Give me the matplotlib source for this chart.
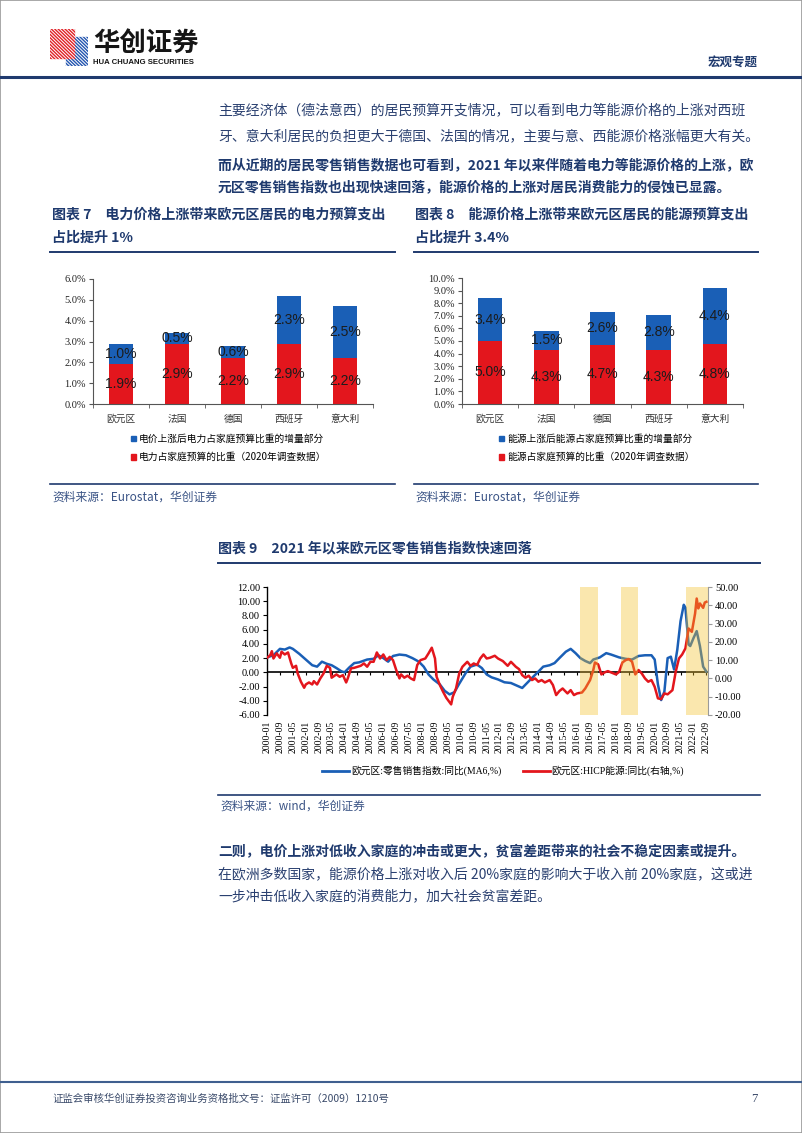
import numpy as np
import matplotlib
matplotlib.use('Agg')
import matplotlib.pyplot as plt
from matplotlib.patches import Patch, Rectangle, Polygon
from matplotlib.lines import Line2D

W, H = 802, 1133
NAVY = '#1f3a6e'
TEXT = '#2a4070'
BLUE = '#1a5fb6'
RED = '#e3161d'
CJK = ['Noto Sans CJK SC', 'DejaVu Sans']
SERIF = ['Liberation Serif', 'Noto Sans CJK SC']

plt.rcParams['font.family'] = CJK
plt.rcParams['axes.unicode_minus'] = False

# ---- data: bar charts (chart 7 / chart 8)
countries = ['欧元区', '法国', '德国', '西班牙', '意大利']
elec_base = [1.9, 2.9, 2.2, 2.9, 2.2]
elec_incr = [1.0, 0.5, 0.6, 2.3, 2.5]
energy_base = [5.0, 4.3, 4.7, 4.3, 4.8]
energy_incr = [3.4, 1.5, 2.6, 2.8, 4.4]

# ---- data: chart 9, months since 2000-01
retail_m = [0, 4, 8, 11, 14, 16, 20, 24, 28, 31,
            34, 37, 40, 43, 46, 48, 51, 54, 57, 62,
            66, 69, 72, 75, 78, 82, 86, 90, 94, 97,
            100, 103, 107, 110, 113, 116, 119, 123, 126, 130,
            133, 136, 139, 143, 147, 151, 156, 158, 161, 164,
            168, 171, 175, 178, 181, 185, 188, 191, 194, 197,
            200, 202, 206, 210, 213, 218, 222, 226, 230, 234,
            238, 240, 242, 244, 246, 248, 250, 252, 254, 256,
            258, 259, 261, 262, 264, 266, 268, 270, 272]
retail_v = [2.1, 2.4, 3.3, 3.2, 3.5, 3.3, 2.6, 1.8, 1.0, 0.8,
            1.5, 1.2, 1.0, 0.6, 0.15, 0.0, 0.7, 1.3, 1.4, 1.8,
            1.9, 2.4, 2.0, 1.5, 2.3, 2.5, 2.4, 2.0, 1.5, 0.8,
            -0.3, -1.0, -1.7, -2.6, -3.1, -2.8, -1.6, -0.1, 0.8, 1.1,
            0.6, -0.3, -0.7, -1.0, -1.4, -1.5, -2.0, -2.2, -1.5, -0.8,
            0.1, 0.8, 1.0, 1.3, 2.0, 2.9, 3.3, 2.7, 2.0, 1.6,
            1.3, 1.8, 2.1, 2.7, 2.5, 2.1, 1.9, 1.8, 2.3, 2.4,
            2.4, 1.8, -1.7, -3.9, -2.7, 2.0, 2.2, 0.4, 3.2, 7.2,
            9.5, 9.1, 3.9, 3.7, 4.8, 5.8, 3.7, 0.8, 0.1]
energy_m = [0, 2, 3, 4, 6, 8, 9, 11, 13, 15,
            16, 18, 19, 21, 23, 24, 26, 28, 29, 31,
            33, 35, 37, 39, 40, 43, 45, 47, 49, 50,
            52, 54, 58, 60, 62, 64, 66, 68, 70, 72,
            74, 76, 78, 80, 82, 83, 85, 87, 89, 91,
            93, 95, 98, 100, 102, 104, 105, 107, 109, 111,
            114, 115, 117, 119, 121, 124, 126, 128, 130, 132,
            134, 136, 138, 141, 143, 146, 149, 151, 154, 156,
            158, 160, 162, 164, 166, 168, 170, 172, 175, 177,
            179, 181, 183, 186, 188, 190, 192, 195, 197, 200,
            202, 203, 205, 207, 209, 211, 213, 216, 218, 220,
            222, 224, 226, 228, 230, 232, 234, 236, 238, 240,
            242, 244, 246, 248, 251, 253, 255, 257, 259, 261,
            263, 265, 266, 267, 268, 270, 271, 272]
energy_v = [11.3, 12.7, 14.9, 10.9, 13.7, 11.3, 14.6, 13.1, 14.2, 8.2,
            5.8, 6.9, 2.7, -1.8, -5.1, -3.3, -2.2, -3.3, -1.5, -3.3,
            0.0, 2.7, 6.9, 5.8, 0.4, 2.2, 0.9, 1.8, -2.2, 0.0,
            5.5, 5.8, 6.9, 8.2, 6.4, 9.1, 9.1, 14.2, 10.9, 13.1,
            10.0, 11.8, 10.0, 4.6, 0.0, 2.2, 0.4, 1.5, 0.0, -0.9,
            7.3, 10.0, 10.9, 13.7, 16.8, 10.9, 0.9, -3.6, -7.3, -10.6,
            -14.2, -10.0, -5.5, 2.7, 6.4, 9.1, 6.9, 8.2, 7.3, 10.9,
            13.1, 10.9, 11.3, 12.4, 10.9, 9.5, 6.9, 9.1, 6.4, 5.1,
            1.8, 0.4, 1.5, -0.9, 0.0, -1.8, -0.9, -2.2, -0.9, -3.6,
            -9.1, -6.9, -5.5, -8.2, -6.4, -9.1, -8.2, -7.7, -5.5, -0.9,
            4.6, 8.7, 7.7, 2.2, 3.3, 4.0, 3.3, 2.2, 3.6, 8.7,
            10.0, 10.6, 9.1, 2.2, 4.6, 2.7, 0.0, -1.8, -0.9, -4.6,
            -10.9, -11.3, -8.2, -8.7, -6.4, 3.6, 10.9, 13.1, 16.4, 27.3,
            25.5, 35.5, 43.7, 38.3, 41.0, 38.6, 41.5, 41.9]
band_start = [194, 219, 259.5]
band_end = [205, 229.5, 273]
tick_labels = ['2000-01', '2000-09', '2001-05', '2002-01', '2002-09', '2003-05',
               '2004-01', '2004-09', '2005-05', '2006-01', '2006-09', '2007-05',
               '2008-01', '2008-09', '2009-05', '2010-01', '2010-09', '2011-05',
               '2012-01', '2012-09', '2013-05', '2014-01', '2014-09', '2015-05',
               '2016-01', '2016-09', '2017-05', '2018-01', '2018-09', '2019-05',
               '2020-01', '2020-09', '2021-05', '2022-01', '2022-09']

fig = plt.figure(figsize=(W / 100, H / 100), dpi=100)


def add_ax(l, t, r, b):
    return fig.add_axes([l / W, 1 - b / H, (r - l) / W, (b - t) / H])


def T(x, y, s, **kw):
    kw.setdefault('va', 'center')
    return fig.text(x / W, 1 - y / H, s, **kw)


def hline(x0, x1, y, color=NAVY, lw=1.2):
    fig.add_artist(Line2D([x0 / W, x1 / W], [1 - y / H, 1 - y / H],
                          color=color, lw=lw, transform=fig.transFigure))


# page border
fig.add_artist(Rectangle((0, 0), 1, 1, fill=False, ec='#9a9a9a', lw=1.2,
                         transform=fig.transFigure))

# ---- header / logo
lg = add_ax(50, 29, 88, 66)
lg.set_xlim(0, 1)
lg.set_ylim(0, 1)
lg.axis('off')
lg.add_patch(Polygon([(0.42, 0.78), (1.0, 0.78), (1.0, 0.0), (0.42, 0.0)], color='#2456b0'))
lg.add_patch(Polygon([(0.0, 1.0), (0.62, 1.0), (0.62, 0.22), (0.0, 0.22)], color='#e02228'))
for k in np.arange(-1.0, 1.0, 0.09):
    lg.plot([k, k + 1], [1, 0], color='white', lw=0.7, clip_on=True)
T(93, 43, '华创证券', fontsize=19, weight='heavy', color='#151515')
T(93, 62, 'HUA CHUANG SECURITIES', fontsize=5.6, weight='bold', color='#151515',
  family='Liberation Sans')
T(758, 62, '宏观专题', ha='right', fontsize=9, weight='bold', color=NAVY)
hline(0, W, 77, color='#1f3a6e', lw=2.2)

# ---- body text
T(218, 110, '主要经济体（德法意西）的居民预算开支情况，可以看到电力等能源价格的上涨对西班',
  fontsize=10, color=TEXT)
T(218, 136, '牙、意大利居民的负担更大于德国、法国的情况，主要与意、西能源价格涨幅更大有关。',
  fontsize=10, color=TEXT)
T(218, 165, '而从近期的居民零售销售数据也可看到，2021 年以来伴随着电力等能源价格的上涨，欧',
  fontsize=10, weight='bold', color=NAVY)
T(218, 187, '元区零售销售指数也出现快速回落，能源价格的上涨对居民消费能力的侵蚀已显露。',
  fontsize=10, weight='bold', color=NAVY)


# ---- bar charts
def bar_chart(ax, base, incr, ymax, labels, legend_xy):
    x = np.arange(len(countries))
    ax.bar(x, base, width=0.44, color=RED)
    ax.bar(x, incr, bottom=base, width=0.44, color=BLUE)
    for xi, b, inc in zip(x, base, incr):
        ax.text(xi, b / 2, f'{b:.1f}%', ha='center', va='center', fontsize=10,
                family='Liberation Sans', color='#1c1c1c')
        ax.text(xi, b + inc / 2, f'{inc:.1f}%', ha='center', va='center', fontsize=10,
                family='Liberation Sans', color='#1c1c1c')
    ax.set_xlim(-0.5, len(countries) - 0.5)
    ax.set_ylim(0, ymax)
    yt = np.arange(0, ymax + 0.01, 1)
    ax.set_yticks(yt)
    ax.set_yticklabels([f'{v:.1f}%' for v in yt], family=SERIF, fontsize=7.5)
    ax.set_xticks(x)
    ax.set_xticklabels(countries, fontsize=7, color='#333333')
    ax.set_xticks(np.arange(-0.5, len(countries)), minor=True)
    ax.tick_params(axis='x', which='major', length=0, pad=7)
    ax.tick_params(axis='x', which='minor', length=3, color='#555555')
    ax.tick_params(axis='y', length=3, pad=2, color='#555555', labelcolor='#222222')
    for s in ['top', 'right']:
        ax.spines[s].set_visible(False)
    for s in ['left', 'bottom']:
        ax.spines[s].set_color('#555555')
        ax.spines[s].set_linewidth(0.8)
    handles = [Patch(color=BLUE), Patch(color=RED)]
    fig.legend(handles, labels, loc='upper left',
               bbox_to_anchor=(legend_xy[0] / W, 1 - legend_xy[1] / H),
               frameon=False, fontsize=7, handlelength=0.55, handleheight=0.55,
               handletextpad=0.3, labelspacing=0.85, borderpad=0, borderaxespad=0)


ax7 = add_ax(93, 279, 373, 404)
bar_chart(ax7, elec_base, elec_incr, 6,
          ['电价上涨后电力占家庭预算比重的增量部分', '电力占家庭预算的比重（2020年调查数据）'],
          (131, 434))
ax8 = add_ax(462, 278, 743, 404)
bar_chart(ax8, energy_base, energy_incr, 10,
          ['能源上涨后能源占家庭预算比重的增量部分', '能源占家庭预算的比重（2020年调查数据）'],
          (499, 434))

T(52, 215, '图表 7　电力价格上涨带来欧元区居民的电力预算支出', fontsize=10.1, weight='bold', color=NAVY)
T(52, 238, '占比提升 1%', fontsize=10.1, weight='bold', color=NAVY)
hline(50, 395, 252, lw=1.4)
T(415, 215, '图表 8　能源价格上涨带来欧元区居民的能源预算支出', fontsize=10.1, weight='bold', color=NAVY)
T(415, 238, '占比提升 3.4%', fontsize=10.1, weight='bold', color=NAVY)
hline(414, 758, 252, lw=1.4)
hline(50, 395, 484, lw=1.2)
hline(414, 758, 484, lw=1.2)
T(52, 497, '资料来源：Eurostat，华创证券', fontsize=8.5, style='italic', color='#3a5385')
T(415, 497, '资料来源：Eurostat，华创证券', fontsize=8.5, style='italic', color='#3a5385')

# ---- chart 9
T(218, 548, '图表 9　2021 年以来欧元区零售销售指数快速回落', fontsize=10.1, weight='bold', color=NAVY)
hline(218, 760, 563, lw=1.4)

ax = add_ax(267, 587, 708, 715)
ax.plot(retail_m, retail_v, color=BLUE, lw=1.8, zorder=3)
ax.set_xlim(0, 273)
ax.set_ylim(-6, 12)
yt = np.arange(-6, 12.01, 2)
ax.set_yticks(yt)
ax.set_yticklabels([f'{v:.2f}' for v in yt], family=SERIF, fontsize=7.5)
xt = np.arange(0, 273, 8)
ax.set_xticks(xt)
ax.set_xticklabels(tick_labels, rotation=90, family=SERIF, fontsize=7)
ax.tick_params(axis='x', length=0, pad=4)
ax.tick_params(axis='y', length=3, pad=2, color='black')
ax.axhline(0, color='black', lw=1.2, zorder=2)
ax.vlines(xt, -0.4, 0, color='black', lw=0.8, zorder=2)
for s in ['top', 'right', 'bottom']:
    ax.spines[s].set_visible(False)
ax.spines['left'].set_linewidth(1.0)

ax2 = ax.twinx()
ax2.plot(energy_m, energy_v, color=RED, lw=1.8, zorder=3)
ax2.set_ylim(-20, 50)
yt2 = np.arange(-20, 50.01, 10)
ax2.set_yticks(yt2)
ax2.set_yticklabels([f'{v:.2f}' for v in yt2], family=SERIF, fontsize=7.5)
ax2.tick_params(axis='y', length=3, pad=2, color='#9a9a9a')
for s in ['top', 'left', 'bottom']:
    ax2.spines[s].set_visible(False)
ax2.spines['right'].set_color('#9a9a9a')
ax2.spines['right'].set_linewidth(0.8)
for s0, s1 in zip(band_start, band_end):
    ax2.axvspan(s0, s1, color='#f2c02a', alpha=0.38, lw=0, zorder=5)

leg_handles = [Line2D([], [], color=BLUE, lw=2), Line2D([], [], color=RED, lw=2)]
fig.legend(leg_handles, ['欧元区:零售销售指数:同比(MA6,%)', '欧元区:HICP能源:同比(右轴,%)'],
           loc='center', bbox_to_anchor=(503 / W, 1 - 771 / H), ncol=2, frameon=False,
           prop={'family': SERIF, 'size': 7}, handlelength=2.8, handletextpad=0.2,
           columnspacing=2.2, borderpad=0)

hline(218, 760, 795, lw=1.2)
T(220, 806, '资料来源：wind，华创证券', fontsize=8.5, style='italic', color='#3a5385')

# ---- lower text
T(218, 852, '二则，电价上涨对低收入家庭的冲击或更大，贫富差距带来的社会不稳定因素或提升。',
  fontsize=10, weight='bold', color=NAVY)
T(218, 874, '在欧洲多数国家，能源价格上涨对收入后 20%家庭的影响大于收入前 20%家庭，这或进',
  fontsize=10, color=TEXT)
T(218, 896, '一步冲击低收入家庭的消费能力，加大社会贫富差距。', fontsize=10, color=TEXT)

# ---- footer
hline(0, W, 1082, color='#3f5f8f', lw=1.5)
T(52, 1099, '证监会审核华创证券投资咨询业务资格批文号：证监许可（2009）1210号', fontsize=7.5, color='#3a4a6a')
T(758, 1099, '7', ha='right', fontsize=9, color='#3a4a6a', family='Liberation Serif')

fig.savefig('out.png', dpi=100)
